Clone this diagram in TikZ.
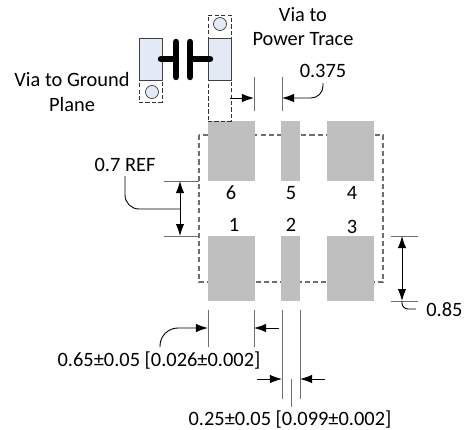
\documentclass[tikz,border=0pt]{standalone}
\usepackage{fontspec}
\setmainfont{Carlito}
\usetikzlibrary{arrows.meta}
\definecolor{padgray}{HTML}{BFBFBF}
\definecolor{viablue}{HTML}{E4EAF5}
\definecolor{dimgray}{HTML}{6E6E6E}
\tikzset{
    lbl/.style={inner sep=0pt,font=\fontsize{14.5}{17}\selectfont},
    pad/.style={fill=padgray,draw=none,inner sep=0pt},
    via/.style={fill=viablue,draw=black!75,line width=.6pt,inner sep=0pt},
    hole/.style={circle,fill=viablue,draw=black!75,line width=.5pt,inner sep=0pt,minimum size=.325cm},
    dashbox/.style={draw=black!80,dash pattern=on 3pt off 1.6pt,line width=.6pt,inner sep=0pt},
    outline/.style={draw=dimgray,dash pattern=on 3.6pt off 2.2pt,line width=.75pt},
    ext/.style={draw=dimgray,line width=.7pt},
    tip/.style={line width=.65pt,-{Latex[length=.3cm,width=.21cm]}},
    twotip/.style={line width=.65pt,{Latex[length=.3cm,width=.21cm]}-{Latex[length=.3cm,width=.21cm]}},
    plate/.style={line width=4.6pt,line cap=round}
}
\begin{document}
\begin{tikzpicture}[x=.025cm,y=-.025cm]
    \useasboundingbox (0,0) rectangle (470,430);
    % outline behind the pads
    \draw[outline] (199,135) rectangle (383,282);
    % pads
    \foreach \name/\px/\pw in {1/231.5/1.175cm,2/290.5/.475cm,3/350.5/1.175cm}{
        \node[pad,minimum width=\pw,minimum height=1.625cm] (P\name) at (\px,268.5) {};
    }
    \foreach \name/\px/\pw in {6/231.5/1.175cm,5/290.5/.475cm,4/350.5/1.175cm}{
        \node[pad,minimum width=\pw,minimum height=1.5cm] (P\name) at (\px,151) {};
    }
    \node[lbl] (n6) at (231,193) {6};
    \node[lbl] (n5) at (291,193) {5};
    \node[lbl] (n4) at (352,193) {4};
    \node[lbl] (n1) at (234,225) {1};
    \node[lbl] (n2) at (291,225) {2};
    \node[lbl] (n3) at (352,227) {3};
    % capacitor and vias
    \begin{scope}
        \node[dashbox,minimum width=.575cm,minimum height=.55cm] (boxL) at (150.5,91) {};
        \node[via,minimum width=.575cm,minimum height=1.05cm] (padL) at (150.5,59) {};
        \node[hole] (holeL) at (152,92) {};
        \node[dashbox,minimum width=.575cm,minimum height=.575cm] (boxT) at (219.5,26.5) {};
        \node[dashbox,minimum width=.575cm,minimum height=1.025cm] (boxB) at (219.5,100.5) {};
        \node[via,minimum width=.575cm,minimum height=1.05cm] (padR) at (219.5,59) {};
        \node[hole] (holeT) at (220,24) {};
        \coordinate (c1t) at (176,42);
        \coordinate (c1b) at (176,77);
        \coordinate (c2t) at (190,42);
        \coordinate (c2b) at (190,77);
        \coordinate (leadL) at (161,59);
        \coordinate (leadLe) at (176,59);
        \coordinate (leadR) at (190,59);
        \coordinate (leadRe) at (210,59);
        \draw[plate] (c1t)--(c1b);
        \draw[plate] (c2t)--(c2b);
        \draw[plate] (leadL)--(leadLe);
        \draw[plate] (leadR)--(leadRe);
    \end{scope}
    % 0.375
    \begin{scope}
        \coordinate (a1) at (254,77);
        \coordinate (a2) at (254,111);
        \coordinate (b1) at (282,77);
        \coordinate (b2) at (282,111);
        \coordinate (a0) at (230,98);
        \coordinate (at) at (254,98);
        \coordinate (bt) at (282,98);
        \coordinate (b0) at (323,83);
        \draw[ext] (a1)--(a2);
        \draw[ext] (b1)--(b2);
        \draw[tip] (a0)--(at);
        \draw[tip,rounded corners=.3cm] (b0)|-(bt);
        \node[lbl] (t375) at (323,71) {0.375};
    \end{scope}
    % 0.7 REF
    \begin{scope}
        \coordinate (c1) at (164,181);
        \coordinate (c2) at (199,181);
        \coordinate (d1) at (164,236);
        \coordinate (d2) at (199,236);
        \coordinate (ct) at (180,181);
        \coordinate (dt) at (180,236);
        \coordinate (cm) at (180,209);
        \coordinate (c0) at (125,176);
        \draw[ext] (c1)--(c2);
        \draw[ext] (d1)--(d2);
        \draw[twotip] (ct)--(dt);
        \draw[line width=.65pt,rounded corners=.35cm] (c0)|-(cm);
        \node[lbl] (t07) at (125,165) {0.7 REF};
    \end{scope}
    % 0.85
    \begin{scope}
        \coordinate (e1) at (391,236);
        \coordinate (e2) at (418,236);
        \coordinate (f1) at (391,301);
        \coordinate (f2) at (418,301);
        \coordinate (et) at (402,236);
        \coordinate (ft) at (402,301);
        \coordinate (f0) at (416,309);
        \draw[ext] (e1)--(e2);
        \draw[ext] (f1)--(f2);
        \draw[twotip] (et)--(ft);
        \draw[line width=.65pt,rounded corners=.15cm] (ft)|-(f0);
        \node[lbl,anchor=west] (t85) at (426,310) {0.85};
    \end{scope}
    % 0.65
    \begin{scope}
        \coordinate (g1) at (208,310);
        \coordinate (g2) at (208,347);
        \coordinate (h1) at (254,310);
        \coordinate (h2) at (254,347);
        \coordinate (g0) at (160,347);
        \coordinate (gt) at (208,328);
        \coordinate (ht) at (254,328);
        \coordinate (h0) at (279,328);
        \draw[ext] (g1)--(g2);
        \draw[ext] (h1)--(h2);
        \draw[tip,rounded corners=.45cm] (g0)|-(gt);
        \draw[tip] (h0)--(ht);
        \node[lbl] (t65) at (159,361) {0.65±0.05 [0.026±0.002]};
    \end{scope}
    % 0.25
    \begin{scope}
        \coordinate (i1) at (282,310);
        \coordinate (i2) at (282,399);
        \coordinate (j1) at (300,310);
        \coordinate (j2) at (300,399);
        \coordinate (i0) at (257,379);
        \coordinate (it) at (282,379);
        \coordinate (jt) at (300,379);
        \coordinate (j0) at (325,379);
        \coordinate (k1) at (291,379);
        \coordinate (k2) at (291,407);
        \draw[ext] (i1)--(i2);
        \draw[ext] (j1)--(j2);
        \draw[ext] (k1)--(k2);
        \draw[tip] (i0)--(it);
        \draw[tip] (j0)--(jt);
        \node[lbl] (t25) at (290,420) {0.25±0.05 [0.099±0.002]};
    \end{scope}
    % via labels
    \node[lbl] (vg1) at (72,79) {Via to Ground};
    \node[lbl] (vg2) at (72,104) {Plane};
    \node[lbl] (vp1) at (303,15) {Via to};
    \node[lbl] (vp2) at (303,39) {Power Trace};
\end{tikzpicture}
\end{document}
